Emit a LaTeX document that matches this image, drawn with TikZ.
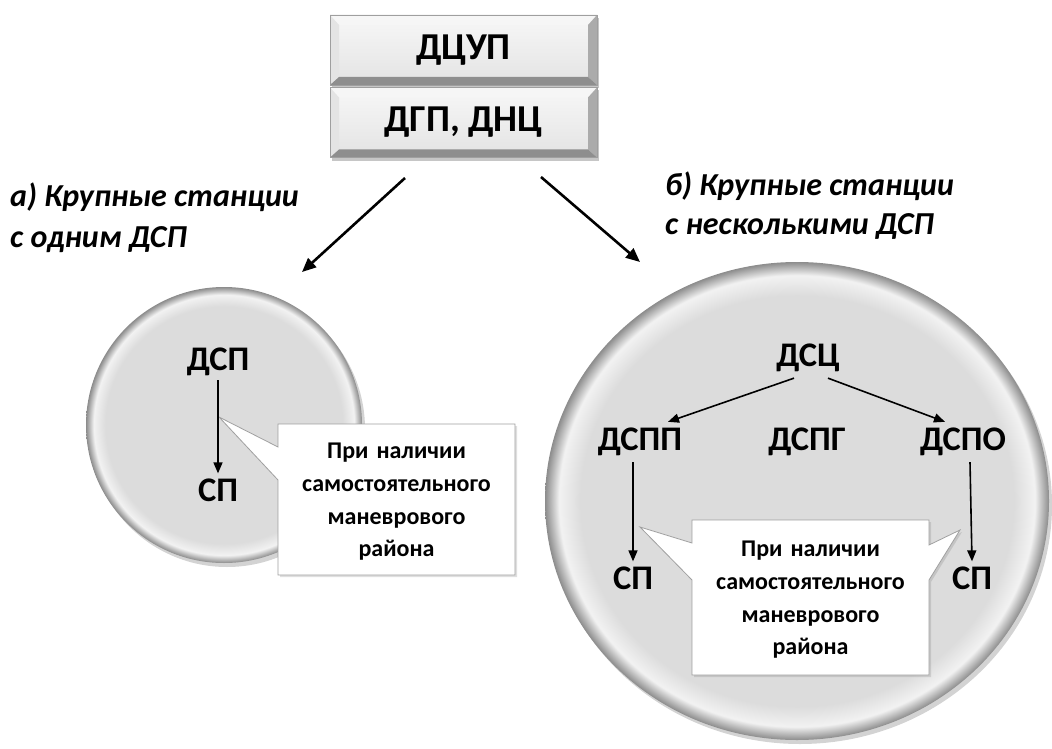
\documentclass[tikz,border=0pt]{standalone}
\usepackage{fontspec}
\setmainfont{Carlito}
\usetikzlibrary{shadows,arrows.meta,calc,shapes.geometric}

\definecolor{discface}{HTML}{DCDCDC}
\definecolor{discrimhi}{HTML}{F2F2F2}
\definecolor{discrimlo}{HTML}{8C8C8C}
\definecolor{bevtop}{HTML}{F6F6F6}
\definecolor{bevleft}{HTML}{E4E4E4}
\definecolor{bevright}{HTML}{ABABAB}
\definecolor{bevbottom}{HTML}{8E8E8E}
\definecolor{calloutline}{HTML}{A0A0A0}

% disc with a flat face and a bevelled rim
\pgfdeclareradialshading{discrim}{\pgfpoint{0bp}{0bp}}{%
  color(0bp)=(discface); color(21.5bp)=(discface);
  color(23.6bp)=(discrimhi); color(25bp)=(discrimlo); color(50bp)=(discrimlo)}

\pgfdeclarelayer{back}
\pgfdeclarelayer{mid}
\pgfsetlayers{back,mid,main}

\tikzset{
  lbl/.style={font=\fontsize{34.5}{40}\selectfont\bfseries, inner sep=0pt},
  heading/.style={font=\fontsize{32}{43}\selectfont\bfseries\itshape,
    inner sep=0pt, anchor=west},
  notetext/.style={font=\fontsize{24}{32.7}\selectfont\bfseries,
    align=center, inner sep=0pt, text width=232pt,
    minimum width=237pt},
  calloutshape/.style={fill=white, draw=calloutline, line width=0.8pt,
    drop shadow={shadow xshift=2pt, shadow yshift=-2pt, opacity=0.25}},
  disc/.style={shading=discrim, inner sep=0pt,
    drop shadow={shadow xshift=3pt, shadow yshift=-4pt, opacity=0.35}},
  bevelbox/.style={minimum width=267pt, minimum height=70pt, inner sep=0pt,
    top color=gray!6, bottom color=gray!22, draw=gray!75, line width=0.6pt,
    font=\fontsize{38}{44}\selectfont\bfseries,
    drop shadow={shadow xshift=2pt, shadow yshift=-3pt, opacity=0.45},
    path picture={
      \path (path picture bounding box.north west) coordinate (bNW)
            (path picture bounding box.north east) coordinate (bNE)
            (path picture bounding box.south west) coordinate (bSW)
            (path picture bounding box.south east) coordinate (bSE);
      \fill[bevtop] (bNW) -- (bNE) -- ([shift={(-9pt,-10pt)}]bNE)
        -- ([shift={(9pt,-10pt)}]bNW) -- cycle;
      \fill[bevleft] (bNW) -- ([shift={(9pt,-10pt)}]bNW)
        -- ([shift={(9pt,8pt)}]bSW) -- (bSW) -- cycle;
      \fill[bevright] (bNE) -- ([shift={(-9pt,-10pt)}]bNE)
        -- ([shift={(-9pt,8pt)}]bSE) -- (bSE) -- cycle;
      \fill[bevbottom] (bSW) -- ([shift={(9pt,8pt)}]bSW)
        -- ([shift={(-9pt,8pt)}]bSE) -- (bSE) -- cycle;
    }},
  bigarrow/.style={line width=2.6pt, -{Triangle[length=14pt,width=12pt]}},
  smallarrow/.style={line width=1.6pt, -{Triangle[length=11pt,width=9pt]}}
}

\begin{document}
\begin{tikzpicture}[x=1pt, y=-1pt]
\useasboundingbox (0,0) rectangle (1052,749);

% hierarchy head
\node[bevelbox] (dcup) at (463.5,50) {ДЦУП};
\node[bevelbox] (dgp) at (463.5,122.5) {ДГП, ДНЦ};

% headings of the two cases
\node[heading] (headA1) at (10,197) {а) Крупные станции};
\node[heading] (headA2) at (10,240) {с одним ДСП};
\node[heading] (headB1) at (665,186) {б) Крупные станции};
\node[heading] (headB2) at (665,226) {с несколькими ДСП};

\coordinate (outL) at (405,178);
\coordinate (inL) at (302,272);
\coordinate (outR) at (541,177);
\coordinate (inR) at (640,262);
\draw[bigarrow] (outL) -- (inL);
\draw[bigarrow] (outR) -- (inR);

% station discs
\begin{pgfonlayer}{back}
\node[disc, circle, minimum size=276pt] (discA) at (224,425) {};
\node[disc, ellipse, minimum width=504pt, minimum height=478pt] (discB) at (797,501) {};
\end{pgfonlayer}

% case a
\node[lbl] (dsp) at (218,362) {ДСП};
\node[lbl] (spA) at (218,490) {СП};
\draw[smallarrow] ([yshift=-4pt]dsp.south) -- ([yshift=5pt]spA.north);

\node[notetext] (noteA) at (396.5,502) {При наличии\\самостоятельного\\маневрового\\района};
\path (noteA.center) ++(-118.5,-78) coordinate (noteANW)
      (noteA.center) ++(118.5,73) coordinate (noteASE);
\coordinate (tipA) at (219,417);
\coordinate (baseA1) at (0,447);
\coordinate (baseA2) at (0,480);
\begin{pgfonlayer}{mid}
\draw[calloutshape] (noteANW) -- (noteANW -| noteASE) -- (noteASE)
  -- (noteASE -| noteANW) -- (noteANW |- baseA2) -- (tipA)
  -- (noteANW |- baseA1) -- cycle;
\end{pgfonlayer}

% case b
\node[lbl] (dsc) at (808,358) {ДСЦ};
\node[lbl] (dspp) at (640,442) {ДСПП};
\node[lbl] (dspg) at (807,442) {ДСПГ};
\node[lbl] (dspo) at (963,442) {ДСПО};
\node[lbl] (spB1) at (633,578) {СП};
\node[lbl] (spB2) at (972,578) {СП};

\draw[smallarrow] ([shift={(-14pt,-6pt)}]dsc.south) -- ([shift={(28pt,6pt)}]dspp.north);
\draw[smallarrow] ([shift={(20pt,-6pt)}]dsc.south) -- ([shift={(-18pt,6pt)}]dspo.north);
\draw[smallarrow] ([shift={(-7pt,-6pt)}]dspp.south) -- ([yshift=5pt]spB1.north);
\draw[smallarrow] ([shift={(7pt,-6pt)}]dspo.south) -- ([yshift=5pt]spB2.north);

\node[notetext] (noteB) at (810.5,600) {При наличии\\самостоятельного\\маневрового\\района};
\path (noteB.center) ++(-118.5,-80) coordinate (noteBNW)
      (noteB.center) ++(118.5,75) coordinate (noteBSE);
\coordinate (tipB1) at (640,527);
\coordinate (tipB2) at (960,530);
\coordinate (baseB1) at (0,543);
\coordinate (baseB2) at (0,580);
\coordinate (baseB3) at (0,545);
\coordinate (baseB4) at (0,580);
\begin{pgfonlayer}{mid}
\draw[calloutshape] (noteBNW) -- (noteBNW -| noteBSE)
  -- (noteBSE |- baseB3) -- (tipB2) -- (noteBSE |- baseB4)
  -- (noteBSE) -- (noteBSE -| noteBNW)
  -- (noteBNW |- baseB2) -- (tipB1) -- (noteBNW |- baseB1) -- cycle;
\end{pgfonlayer}
\end{tikzpicture}
\end{document}
